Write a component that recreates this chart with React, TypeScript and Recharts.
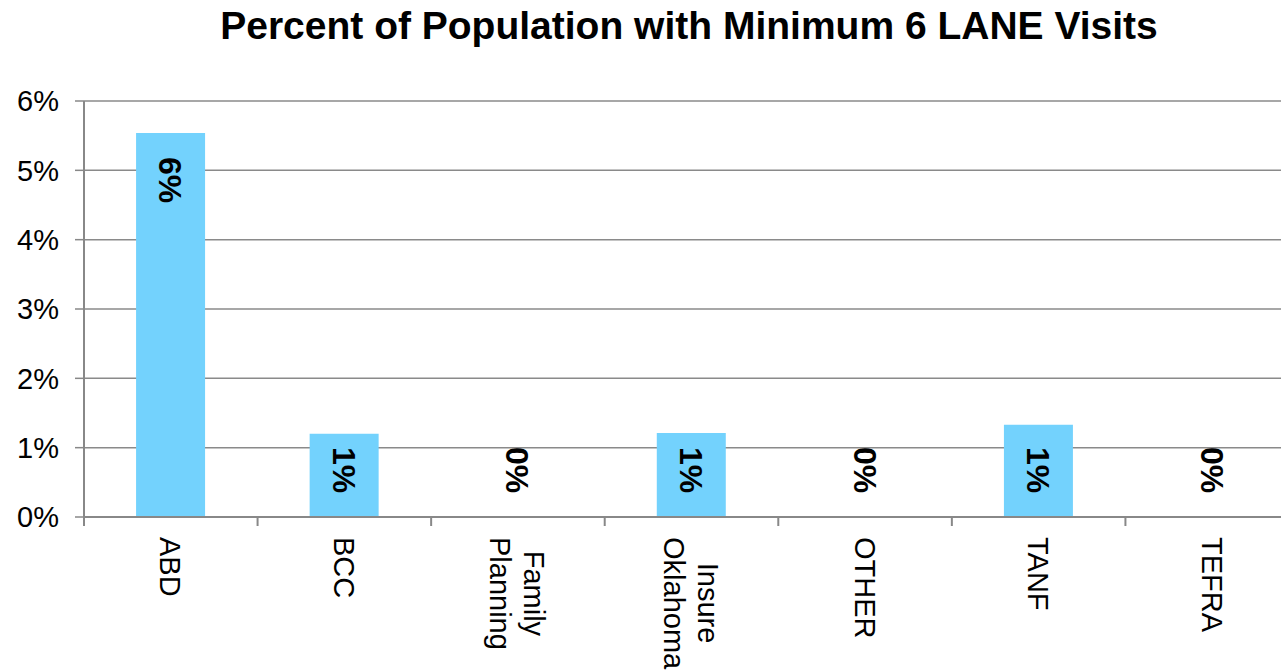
import { Bar, CartesianGrid, ComposedChart, LabelList, Line, XAxis, YAxis } from "recharts";

const programs = ["ABD", "BCC", "Family Planning", "Insure Oklahoma", "OTHER", "TANF", "TEFRA"];
const pctWithSixVisits = [5.54, 1.2, 0, 1.21, 0, 1.33, 0];
const yTicks = [0, 1, 2, 3, 4, 5, 6];

const data = programs.map((name, i) => ({ name, value: pctWithSixVisits[i] }));

const FONT = "'Liberation Sans', Arial, sans-serif";
const CHART_W = 1310;
const CHART_H = 672;
const X_AXIS_H = 155;
const MARGIN = { top: 101, right: 11, bottom: 0, left: 0 };
const Y_AXIS_W = 84;
const BAND = (CHART_W - MARGIN.left - MARGIN.right - Y_AXIS_W) / programs.length;
const PLOT_BOTTOM = CHART_H - MARGIN.bottom - X_AXIS_H;

let ctx: CanvasRenderingContext2D | null = null;
function measure(text: string, font: string) {
  if (!ctx) ctx = document.createElement("canvas").getContext("2d");
  if (!ctx) return text.length * 15;
  ctx.font = font;
  return ctx.measureText(text).width;
}

function CategoryTick(props: any) {
  const { x, y, payload } = props;
  const fs = 29;
  const lines = String(payload.value).split(" ");
  const lineH = 34;
  const maxLen = Math.max(...lines.map((l) => measure(l, `${fs}px ${FONT}`)));
  const n = lines.length;
  const left = x - BAND / 2;
  return (
    <g>
      <line x1={left} x2={left} y1={y} y2={y + 9} stroke="#888" strokeWidth={2} />
      <g transform={`translate(${x}, ${y + 20}) rotate(90)`}>
        {lines.map((l, i) => (
          <text
            key={l}
            x={maxLen / 2}
            y={-((n - 1) / 2 - i) * lineH + 0.36 * fs}
            textAnchor="middle"
            fontSize={fs}
            fontFamily={FONT}
            fill="#000"
          >
            {l}
          </text>
        ))}
      </g>
    </g>
  );
}

// label drawn off the (invisible) line points, so zero values get one too
function ValueLabel(props: any) {
  const { x, y, value } = props;
  const fs = 32;
  const start = Math.min(y + 24, PLOT_BOTTOM - 70);
  return (
    <g transform={`translate(${x}, ${start}) rotate(90)`}>
      <text
        x={0}
        y={0.36 * fs}
        textAnchor="start"
        fontSize={fs}
        fontWeight="bold"
        fontFamily={FONT}
        fill="#000"
      >
        {`${Math.round(value)}%`}
      </text>
    </g>
  );
}

export default function App() {
  return (
    <div
      style={{
        position: "absolute",
        left: 0,
        top: 0,
        width: 1281,
        height: 672,
        overflow: "hidden",
        background: "#fff",
        fontFamily: FONT,
      }}
    >
      <div
        style={{
          position: "absolute",
          top: 6,
          left: 689,
          transform: "translateX(-50%)",
          whiteSpace: "nowrap",
          fontSize: 39,
          lineHeight: "39px",
          fontWeight: "bold",
          color: "#000",
        }}
      >
        Percent of Population with Minimum 6 LANE Visits
      </div>
      <ComposedChart width={CHART_W} height={CHART_H} data={data} margin={MARGIN} barCategoryGap="30%">
        <CartesianGrid vertical={false} stroke="#8a8a8a" strokeWidth={1.5} />
        <XAxis
          dataKey="name"
          height={X_AXIS_H}
          interval={0}
          tickLine={false}
          tickSize={0}
          tickMargin={0}
          axisLine={{ stroke: "#888", strokeWidth: 2 }}
          tick={(p: any) => <CategoryTick {...p} />}
        />
        <YAxis
          width={Y_AXIS_W}
          domain={[0, 6]}
          ticks={yTicks}
          interval={0}
          tickSize={9}
          tickMargin={16}
          tickLine={{ stroke: "#888", strokeWidth: 1.5 }}
          axisLine={{ stroke: "#888", strokeWidth: 2 }}
          tickFormatter={(v: number) => `${v}%`}
          tick={{ fontSize: 29, fill: "#000", fontFamily: FONT }}
        />
        <Bar dataKey="value" fill="#73D2FD" isAnimationActive={false} />
        <Line
          dataKey="value"
          stroke="none"
          dot={false}
          activeDot={false}
          legendType="none"
          isAnimationActive={false}
        >
          <LabelList dataKey="value" content={(p: any) => <ValueLabel {...p} />} />
        </Line>
      </ComposedChart>
    </div>
  );
}
